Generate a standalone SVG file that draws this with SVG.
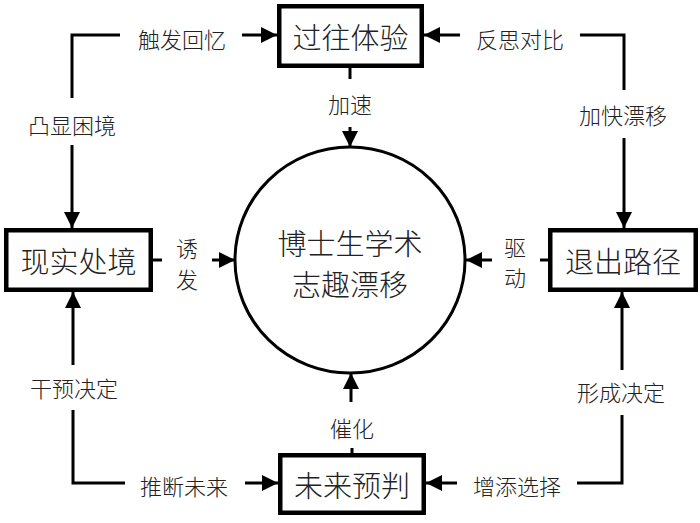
<svg xmlns="http://www.w3.org/2000/svg" width="700" height="523" viewBox="0 0 700 523">
<style>
.box{fill:#fff;stroke:#000;stroke-width:4.5}
.ln{fill:none;stroke:#000;stroke-width:3}
.t{font-family:"Noto Sans CJK SC","Liberation Sans",sans-serif;font-weight:300;fill:#222;text-anchor:middle;dominant-baseline:central}
.big{font-size:29px}
.sm{font-size:22px}
</style>
<defs>
<marker id="ah" markerUnits="userSpaceOnUse" markerWidth="18" markerHeight="18" refX="16" refY="8" orient="auto">
<path d="M0,0 L16,8 L0,16 z" fill="#000"/>
</marker>
</defs>
<rect width="700" height="523" fill="#fff"/>
<g id="connectors">
<polyline class="ln" points="120,35 72,35 72,98"/>
<line class="ln" x1="242" y1="35" x2="277" y2="35" marker-end="url(#ah)"/>
<line class="ln" x1="72" y1="145" x2="72" y2="228" marker-end="url(#ah)"/>
<text class="t sm" x="182" y="38">触发回忆</text>
<text class="t sm" x="72" y="124">凸显困境</text>
<polyline class="ln" points="580,35 624,35 624,90"/>
<line class="ln" x1="460" y1="35" x2="424" y2="35" marker-end="url(#ah)"/>
<line class="ln" x1="624" y1="138" x2="624" y2="228" marker-end="url(#ah)"/>
<text class="t sm" x="520" y="38">反思对比</text>
<text class="t sm" x="623" y="114">加快漂移</text>
<polyline class="ln" points="125,483 73,483 73,410"/>
<line class="ln" x1="73" y1="365" x2="73" y2="292" marker-end="url(#ah)"/>
<line class="ln" x1="245" y1="483" x2="278" y2="483" marker-end="url(#ah)"/>
<text class="t sm" x="74" y="387">干预决定</text>
<text class="t sm" x="184" y="485">推断未来</text>
<polyline class="ln" points="577,483 622,483 622,415"/>
<line class="ln" x1="622" y1="370" x2="622" y2="292" marker-end="url(#ah)"/>
<line class="ln" x1="457" y1="483" x2="426" y2="483" marker-end="url(#ah)"/>
<text class="t sm" x="621" y="391">形成决定</text>
<text class="t sm" x="517" y="485">增添选择</text>
<line class="ln" x1="350" y1="68" x2="350" y2="79"/>
<line class="ln" x1="350" y1="127" x2="350" y2="147" marker-end="url(#ah)"/>
<text class="t sm" x="350" y="103">加速</text>
<line class="ln" x1="352" y1="448" x2="352" y2="453"/>
<line class="ln" x1="351" y1="402" x2="351" y2="373" marker-end="url(#ah)"/>
<text class="t sm" x="352" y="427">催化</text>
<line class="ln" x1="153" y1="260" x2="162" y2="260"/>
<line class="ln" x1="212" y1="260" x2="235" y2="260" marker-end="url(#ah)"/>
<text class="t sm" x="187" y="247">诱</text>
<text class="t sm" x="187" y="278">发</text>
<line class="ln" x1="540" y1="260" x2="548" y2="260"/>
<line class="ln" x1="492" y1="260" x2="466" y2="260" marker-end="url(#ah)"/>
<text class="t sm" x="515" y="246">驱</text>
<text class="t sm" x="515" y="276">动</text>
</g>
<g id="node-center">
<ellipse cx="350" cy="260" rx="115" ry="113" fill="#fff" stroke="#000" stroke-width="3"/>
<text class="t big" x="350" y="242">博士生学术</text>
<text class="t big" x="350" y="283">志趣漂移</text>
</g>
<g id="node-past">
<rect class="box" x="279.25" y="6.25" width="142.5" height="59.5"/>
<text class="t big" x="350.5" y="36">过往体验</text>
</g>
<g id="node-reality">
<rect class="box" x="6.25" y="230.25" width="144.5" height="59.5"/>
<text class="t big" x="78.5" y="260">现实处境</text>
</g>
<g id="node-exit">
<rect class="box" x="550.25" y="230.25" width="145.5" height="59.5"/>
<text class="t big" x="623" y="260">退出路径</text>
</g>
<g id="node-future">
<rect class="box" x="280.25" y="455.25" width="143.5" height="57.5"/>
<text class="t big" x="352" y="484">未来预判</text>
</g>
</svg>
